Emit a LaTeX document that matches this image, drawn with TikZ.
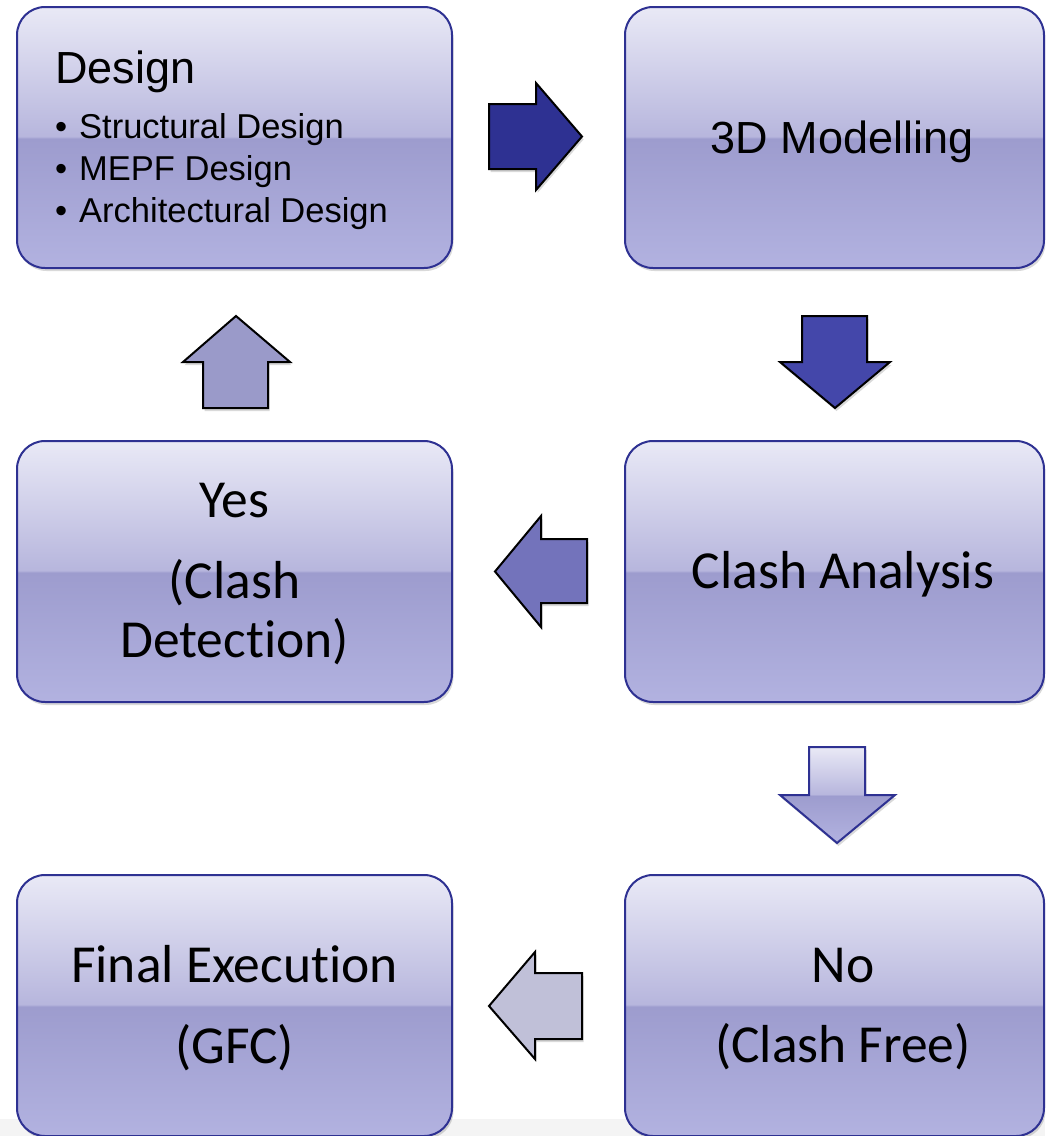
\documentclass[tikz,border=0pt]{standalone}
\usepackage{fontspec}
\newfontfamily\arialf{Liberation Sans}
\newfontfamily\calif[Ligatures=NoCommon]{Carlito}
\usetikzlibrary{shadows}
\definecolor{navy}{RGB}{46,49,146}
\definecolor{btop}{RGB}{233,233,246}
\definecolor{bmid}{RGB}{183,182,221}
\definecolor{bdark}{RGB}{157,156,206}
\definecolor{bbot}{RGB}{178,178,224}
\definecolor{aone}{RGB}{46,49,146}
\definecolor{atwo}{RGB}{68,71,170}
\definecolor{athree}{RGB}{115,115,187}
\definecolor{afour}{RGB}{154,154,201}
\definecolor{asix}{RGB}{192,192,216}
\definecolor{strip}{RGB}{244,244,244}
\pgfdeclareverticalshading{boxshade}{100bp}{color(0bp)=(bbot); color(25bp)=(bbot); color(49.8bp)=(bdark); color(50.2bp)=(bmid); color(75bp)=(btop); color(100bp)=(btop)}
\tikzset{
  softshadow/.style={drop shadow={shadow xshift=1.5pt, shadow yshift=-3pt, opacity=0.15, fill=black}},
  stagebox/.style={draw=navy, line width=2pt, rounded corners=28pt, shading=boxshade,
    minimum height=261pt, inner sep=0pt, softshadow},
  blockarrow/.style={draw=black, line width=2pt, line join=miter, softshadow},
  ttl/.style={font=\arialf\fontsize{45}{54}\selectfont, anchor=base, inner sep=0pt},
  bul/.style={font=\arialf\fontsize{34.5}{42}\selectfont, anchor=base west, inner sep=0pt},
  cal/.style={font=\calif\fontsize{53.5}{64}\selectfont, anchor=base, inner sep=0pt}
}
\begin{document}
\begin{tikzpicture}[x=1pt,y=-1pt]
\useasboundingbox (0,0) rectangle (1045,1136);
\clip (0,0) rectangle (1045,1136);
\fill[strip] (0,1119) rectangle (1045,1136);

% boxes
\node[stagebox, minimum width=435pt] (design) at (234.5,137.5) {};
\node[stagebox, minimum width=419pt] (model) at (834.5,137.5) {};
\node[stagebox, minimum width=435pt] (yes) at (234.5,571.5) {};
\node[stagebox, minimum width=419pt] (clash) at (834.5,571.5) {};
\node[stagebox, minimum width=435pt] (final) at (234.5,1005.5) {};
\node[stagebox, minimum width=419pt] (no) at (834.5,1005.5) {};

% texts
\node[ttl, anchor=base west] (tdes) at (55,83) {Design};
\node[bul] (b1) at (55,138) {•};
\node[bul] (s1) at (79,138) {Structural Design};
\node[bul] (b2) at (55,180) {•};
\node[bul] (s2) at (79,180) {MEPF Design};
\node[bul] (b3) at (55,222) {•};
\node[bul] (s3) at (79,222) {Architectural Design};
\node[ttl] (tmod) at (842,153) {3D Modelling};
\node[cal] (tyes) at (234.5,517) {Yes};
\node[cal] (tcl) at (234.5,598) {(Clash};
\node[cal] (tdet) at (234.5,657) {Detection)};
\node[cal] (tca) at (843,588) {Clash Analysis};
\node[cal] (tfin) at (234.5,982) {Final Execution};
\node[cal] (tgfc) at (234.5,1063) {(GFC)};
\node[cal] (tno) at (843,982) {No};
\node[cal] (tcf) at (843,1062) {(Clash Free)};

% block arrows
\draw[blockarrow, fill=aone] (489,104) -- (536,104) -- (536,83) -- (582,136.5) -- (536,190) -- (536,169) -- (489,169) -- cycle;
\draw[blockarrow, fill=atwo] (802,316) -- (867,316) -- (867,362) -- (890,362) -- (835,408) -- (780,362) -- (802,362) -- cycle;
\draw[blockarrow, fill=athree] (587,539) -- (541,539) -- (541,516) -- (495,571.5) -- (541,627) -- (541,603) -- (587,603) -- cycle;
\draw[blockarrow, fill=afour] (203,408) -- (203,362) -- (183,362) -- (236,316) -- (290,362) -- (268,362) -- (268,408) -- cycle;
\draw[blockarrow, draw=navy, shading=boxshade] (809,747) -- (865,747) -- (865,795) -- (895,795) -- (837,843) -- (780,795) -- (809,795) -- cycle;
\draw[blockarrow, fill=asix] (582,973) -- (535,973) -- (535,952) -- (489,1006) -- (535,1059) -- (535,1039) -- (582,1039) -- cycle;
\end{tikzpicture}
\end{document}
